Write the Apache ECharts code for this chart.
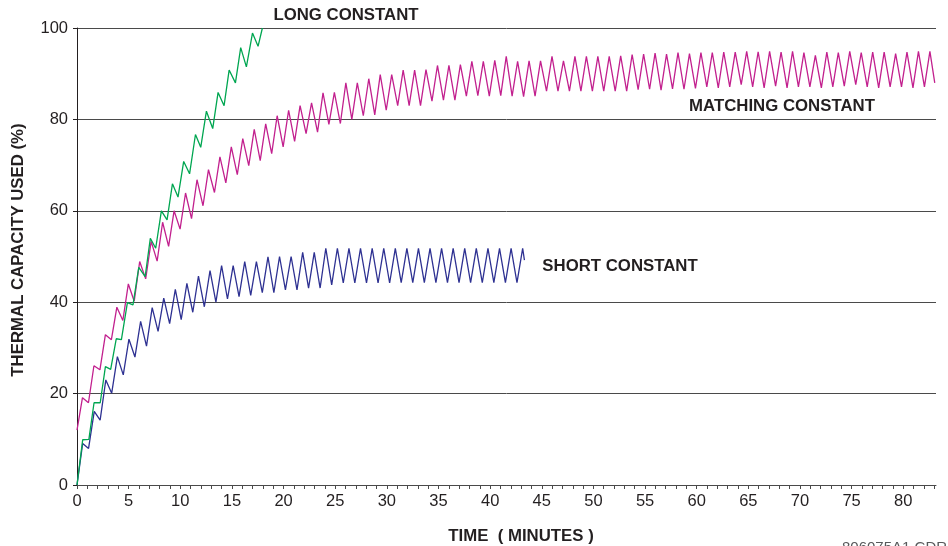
<!DOCTYPE html>
<html>
<head>
<meta charset="utf-8">
<script src="https://cdn.jsdelivr.net/npm/echarts@6/dist/echarts.min.js"></script>
<style>html,body{margin:0;padding:0;background:#fff;}#chart{width:948px;height:546px;}</style>
</head>
<body>
<div id="chart"></div>
<script>
// ---- tick values ----
const xLabelValues = [0,5,10,15,20,25,30,35,40,45,50,55,60,65,70,75,80];
const xMinuteTicks = [0,1,2,3,4,5,6,7,8,9,10,11,12,13,14,15,16,17,18,19,20,21,22,23,24,25,26,27,28,29,30,31,32,33,34,35,36,37,38,39,40,41,42,43,44,45,46,47,48,49,50,51,52,53,54,55,56,57,58,59,60,61,62,63,64,65,66,67,68,69,70,71,72,73,74,75,76,77,78,79,80,81,82,83];

// ---- MATCHING CONSTANT (magenta): turning points (time in minutes, % used) ----
const magLowT = [0,1.11,2.22,3.33,4.44,5.54,6.65,7.76,8.87,9.98,11.09,12.2,13.31,14.41,15.52,16.63,17.74,18.85,19.96,21.07,22.18,23.29,24.39,25.5,26.61,27.72,28.83,29.94,31.05,32.16,33.26,34.37,35.48,36.59,37.7,38.81,39.92,41.03,42.13,43.24,44.35,45.46,46.57,47.68,48.79,49.9,51.0,52.11,53.22,54.33,55.44,56.55,57.66,58.77,59.88,60.98,62.09,63.2,64.31,65.42,66.53,67.64,68.75,69.85,70.96,72.07,73.18,74.29,75.4,76.51,77.62,78.73,79.83,80.94,82.05];
const magLowV = [12.0,18.0,25.2,31.8,36.0,40.2,45.1,49.0,52.2,56.0,58.3,61.1,64.0,66.1,67.9,69.9,71.0,72.5,74.0,75.2,76.9,77.2,78.9,79.1,80.0,80.8,81.0,82.0,83.0,83.0,83.0,84.0,84.2,84.2,85.1,85.2,85.1,85.2,85.1,85.0,85.1,86.2,86.2,86.2,86.2,86.2,86.2,86.2,86.2,86.5,86.6,86.4,86.7,86.6,86.8,87.1,86.9,87.1,87.6,87.1,86.9,87.3,86.9,87.1,87.1,86.9,87.1,87.3,87.6,87.1,86.9,87.1,87.1,86.9,87.1];
const magHighT = [0.53,1.64,2.75,3.86,4.97,6.07,7.18,8.29,9.4,10.51,11.62,12.73,13.84,14.94,16.05,17.16,18.27,19.38,20.49,21.6,22.71,23.82,24.92,26.03,27.14,28.25,29.36,30.47,31.58,32.69,33.79,34.9,36.01,37.12,38.23,39.34,40.45,41.56,42.66,43.77,44.88,45.99,47.1,48.21,49.32,50.43,51.53,52.64,53.75,54.86,55.97,57.08,58.19,59.3,60.41,61.51,62.62,63.73,64.84,65.95,67.06,68.17,69.28,70.38,71.49,72.6,73.71,74.82,75.93,77.04,78.15,79.26,80.36,81.47,82.58];
const magHighV = [19.1,26.1,32.9,38.9,44.0,48.9,53.3,57.5,60.0,63.9,66.8,69.0,71.8,74.0,75.8,77.8,79.0,80.8,82.0,83.0,83.6,85.8,85.9,88.0,88.0,88.9,89.8,89.8,90.8,90.8,90.9,91.8,91.8,92.0,92.7,92.7,92.9,93.8,92.7,92.8,92.8,93.8,92.8,93.8,93.8,93.8,93.8,93.9,94.2,94.3,94.5,94.3,94.6,94.4,94.6,94.6,94.7,94.7,94.9,94.8,94.9,94.7,94.9,94.6,94.0,94.7,94.6,94.9,94.6,94.7,94.7,94.4,94.7,94.9,94.9];
const magEnd = [83.05, 88.0];

// ---- SHORT CONSTANT (blue) ----
const blueLowT = [0,1.12,2.24,3.36,4.48,5.61,6.73,7.85,8.97,10.09,11.21,12.33,13.45,14.57,15.69,16.82,17.94,19.06,20.18,21.3,22.42,23.54,24.66,25.78,26.9,28.03,29.15,30.27,31.39,32.51,33.63,34.75,35.87,36.99,38.11,39.24,40.36,41.48,42.6];
const blueLowV = [0,8.0,14.2,20.1,24.1,28.0,30.4,33.6,35.3,36.2,37.8,39.0,40.0,40.7,41.2,41.5,42.1,42.1,42.7,42.7,43.1,43.1,43.8,44.2,44.2,44.2,44.2,44.2,44.3,44.3,44.3,44.3,44.3,44.3,44.3,44.3,44.3,44.3,44.3];
const blueHighT = [0.55,1.67,2.79,3.91,5.03,6.16,7.28,8.4,9.52,10.64,11.76,12.88,14.0,15.12,16.24,17.37,18.49,19.61,20.73,21.85,22.97,24.09,25.21,26.33,27.45,28.58,29.7,30.82,31.94,33.06,34.18,35.3,36.42,37.54,38.66,39.79,40.91,42.03,43.15];
const blueHighV = [9.1,16.1,23.0,28.1,31.9,35.8,38.8,40.9,42.8,44.1,45.7,46.9,48.0,48.0,48.9,48.9,49.9,50.0,50.0,50.9,50.9,51.8,51.8,51.8,51.8,51.8,51.8,51.8,51.8,51.8,51.8,51.8,51.8,51.8,51.8,51.8,51.8,51.8,51.8];
const blueEnd = [43.32, 49.2];

// ---- LONG CONSTANT (green) ----
const greenLowT = [0,1.15,2.25,3.26,4.3,5.42,6.6,7.62,8.72,9.78,10.9,11.98,13.14,14.24,15.34,16.4,17.53];
const greenLowV = [0,10.0,18.0,25.3,31.8,39.4,45.6,51.8,58.0,63.0,68.1,73.9,78.0,83.0,88.0,91.5,96.0];
const greenHighT = [0.55,1.65,2.75,3.8,4.88,5.98,7.1,8.17,9.24,10.33,11.47,12.53,13.66,14.73,15.85,16.99];
const greenHighV = [9.9,18.0,25.9,32.0,39.9,47.6,54.0,60.0,65.9,70.8,76.7,81.8,85.9,90.8,95.7,98.9];
const greenEnd = [17.95, 100];

function buildPoints(lowT, lowV, highT, highV, end) {
  const pts = [];
  const n = Math.max(lowT.length, highT.length);
  for (let i = 0; i < n; i++) {
    if (i < lowT.length) pts.push([lowT[i], lowV[i]]);
    if (i < highT.length) pts.push([highT[i], highV[i]]);
  }
  if (end) pts.push(end);
  return pts;
}

const FONT = '"Liberation Sans", Arial, Helvetica, sans-serif';
const chart = echarts.init(document.getElementById('chart'), null, {renderer: 'canvas'});

function label(text, x, y, size, weight, extra) {
  return Object.assign({
    type: 'text', x: x, y: y, z: 100,
    style: {
      text: text,
      font: (weight || 'bold') + ' ' + size + 'px ' + FONT,
      fill: '#231f20',
      align: 'center', verticalAlign: 'middle',
      textAlign: 'center', textVerticalAlign: 'middle'
    }
  }, extra || {});
}

chart.setOption({
  animation: false,
  backgroundColor: '#ffffff',
  grid: {left: 77, right: 12, top: 28, bottom: 61, containLabel: false},
  xAxis: {
    type: 'value', min: 0, max: 83.17,
    axisLine: {show: true, lineStyle: {color: '#4a4a4a', width: 1}},
    axisTick: {show: true, inside: false, length: 4, customValues: xMinuteTicks, lineStyle: {color: '#4a4a4a', width: 1}},
    axisLabel: {show: true, customValues: xLabelValues, margin: 8, fontSize: 16.5, color: '#231f20', fontFamily: FONT},
    splitLine: {show: false}
  },
  yAxis: {
    type: 'value', min: 0, max: 100, interval: 20,
    axisLine: {show: true, lineStyle: {color: '#231f20', width: 1}},
    axisTick: {show: true, inside: false, length: 4, lineStyle: {color: '#231f20', width: 1}},
    axisLabel: {margin: 9, fontSize: 16.5, color: '#231f20', fontFamily: FONT},
    splitLine: {show: true, lineStyle: {color: '#4a4a4a', width: 1}}
  },
  series: [
    {name: 'SHORT CONSTANT', type: 'line', showSymbol: false, symbol: 'none', smooth: false,
     lineStyle: {color: '#2e3192', width: 1.3}, data: buildPoints(blueLowT, blueLowV, blueHighT, blueHighV, blueEnd)},
    {name: 'MATCHING CONSTANT', type: 'line', showSymbol: false, symbol: 'none', smooth: false,
     lineStyle: {color: '#c2208e', width: 1.3}, data: buildPoints(magLowT, magLowV, magHighT, magHighV, magEnd)},
    {name: 'LONG CONSTANT', type: 'line', showSymbol: false, symbol: 'none', smooth: false,
     lineStyle: {color: '#00a651', width: 1.3}, data: buildPoints(greenLowT, greenLowV, greenHighT, greenHighV, greenEnd)}
  ],
  graphic: [
    label('LONG CONSTANT', 346, 15, 16.8),
    label('MATCHING CONSTANT', 782, 106, 16.8),
    label('SHORT CONSTANT', 620, 266, 16.8),
    label('TIME  ( MINUTES )', 521, 536, 16.8),
    label('THERMAL CAPACITY USED (%)', 18, 250, 16.8, 'bold', {rotation: Math.PI / 2}),
    {
      type: 'text', x: 842, y: 540, z: 100,
      style: {text: '806075A1.CDR', font: '15px ' + FONT, fill: '#58595b',
              align: 'left', verticalAlign: 'top', textAlign: 'left', textVerticalAlign: 'top'}
    }
  ]
});
</script>
</body>
</html>
